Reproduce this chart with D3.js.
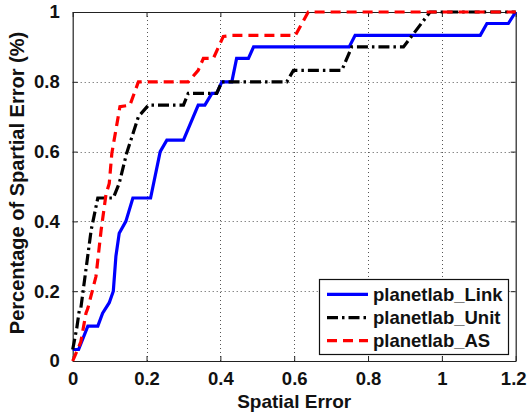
<!DOCTYPE html>
<html><head><meta charset="utf-8">
<script src="https://cdn.jsdelivr.net/npm/d3@7"></script>
<style>
body{margin:0;background:#fff;}
svg{display:block;font-family:"Liberation Sans",Arial,Helvetica,sans-serif;font-weight:bold;}
</style></head>
<body>
<script>
// ---- data ----
const seriesNames = ["planetlab_Link", "planetlab_Unit", "planetlab_AS"];
const linkX = [0, 0.016, 0.041, 0.068, 0.081, 0.099, 0.11, 0.117, 0.126, 0.144, 0.163, 0.211, 0.237, 0.255, 0.30, 0.34, 0.358, 0.377, 0.39, 0.404, 0.431, 0.444, 0.476, 0.49, 0.749, 0.765, 1.104, 1.122, 1.18, 1.2];
const linkY = [0.033, 0.033, 0.1, 0.1, 0.137, 0.167, 0.2, 0.3, 0.366, 0.4, 0.467, 0.467, 0.6, 0.633, 0.633, 0.733, 0.733, 0.767, 0.767, 0.8, 0.8, 0.867, 0.867, 0.9, 0.9, 0.933, 0.933, 0.967, 0.967, 1];
const unitX = [0, 0.011, 0.018, 0.022, 0.05, 0.068, 0.11, 0.126, 0.146, 0.178, 0.205, 0.30, 0.313, 0.39, 0.404, 0.58, 0.598, 0.729, 0.756, 0.896, 0.968, 1.2];
const unitY = [0.033, 0.094, 0.146, 0.151, 0.375, 0.467, 0.467, 0.509, 0.595, 0.7, 0.733, 0.733, 0.767, 0.767, 0.8, 0.8, 0.833, 0.833, 0.9, 0.9, 1, 1];
const asX = [0, 0.022, 0.036, 0.041, 0.063, 0.077, 0.09, 0.099, 0.106, 0.128, 0.155, 0.178, 0.313, 0.34, 0.354, 0.381, 0.408, 0.431, 0.603, 0.638, 1.2];
const asY = [0, 0.055, 0.137, 0.151, 0.242, 0.375, 0.476, 0.509, 0.595, 0.729, 0.733, 0.8, 0.8, 0.833, 0.867, 0.867, 0.93, 0.933, 0.933, 1, 1];
const xTicks = [0, 0.2, 0.4, 0.6, 0.8, 1, 1.2];
const yTicks = [0, 0.2, 0.4, 0.6, 0.8, 1];
const xLabel = "Spatial Error";
const yLabel = "Percentage of Spartial Error (%)";

// ---- layout ----
const W = 527, H = 419;
const m = {left: 72.7, right: W - 515.7, top: 12, bottom: H - 361};
const x = d3.scaleLinear().domain([0, 1.2]).range([m.left, W - m.right]);
const y = d3.scaleLinear().domain([0, 1]).range([H - m.bottom, m.top]);

const svg = d3.select("body").append("svg").attr("width", W).attr("height", H);

// grid
const grid = svg.append("g").attr("stroke", "#555").attr("stroke-width", 1).attr("stroke-dasharray", "1,3");
grid.selectAll(".gx").data(xTicks.slice(1, -1)).join("line")
  .attr("x1", d => Math.round(x(d)) + 0.5).attr("x2", d => Math.round(x(d)) + 0.5)
  .attr("y1", y(1)).attr("y2", y(0));
grid.selectAll(".gy").data(yTicks.slice(1, -1)).join("line")
  .attr("y1", d => Math.round(y(d)) + 0.5).attr("y2", d => Math.round(y(d)) + 0.5)
  .attr("x1", x(0)).attr("x2", x(1.2));

// axes (MATLAB style box, inward ticks)
const fs = 18.5;
const ax = svg.append("g").attr("transform", `translate(0,${y(0)})`)
  .call(d3.axisBottom(x).tickValues(xTicks).tickFormat(d3.format("")).tickSizeInner(-5).tickSizeOuter(0).tickPadding(11));
const axT = svg.append("g").attr("transform", `translate(0,${y(1)})`)
  .call(d3.axisTop(x).tickValues(xTicks).tickFormat("").tickSizeInner(-5).tickSizeOuter(0));
const ay = svg.append("g").attr("transform", `translate(${x(0)},0)`)
  .call(d3.axisLeft(y).tickValues(yTicks).tickFormat(d3.format("")).tickSizeInner(-5).tickSizeOuter(0).tickPadding(13));
const ayR = svg.append("g").attr("transform", `translate(${x(1.2)},0)`)
  .call(d3.axisRight(y).tickValues(yTicks).tickFormat("").tickSizeInner(-5).tickSizeOuter(0));
[ax, axT, ay, ayR].forEach(g => {
  g.select(".domain").attr("stroke", "#222").attr("stroke-width", 1.2);
  g.selectAll(".tick line").attr("stroke", "#222");
  g.selectAll("text").attr("font-size", fs).attr("font-weight", "bold").attr("fill", "#111")
    .attr("font-family", '"Liberation Sans",Arial,sans-serif');
});
// keep the last x tick label inside the picture
ax.selectAll(".tick text").filter(d => d === 1.2).attr("dx", -2.5);

// lines
const line = d3.line().x(d => x(d[0])).y(d => y(d[1]));
const series = [
  {name: seriesNames[0], xs: linkX, ys: linkY, color: "#0000ff", dash: null},
  {name: seriesNames[1], xs: unitX, ys: unitY, color: "#000000", dash: "11,4,2.5,4"},
  {name: seriesNames[2], xs: asX, ys: asY, color: "#ff0000", dash: "10,6"}
];
svg.append("g").selectAll("path").data(series).join("path")
  .attr("d", s => line(s.xs.map((v, i) => [v, s.ys[i]])))
  .attr("fill", "none").attr("stroke", s => s.color).attr("stroke-width", 3.2)
  .attr("stroke-dasharray", s => s.dash);

// labels
svg.append("text").attr("x", (x(0) + x(1.2)) / 2).attr("y", 408).attr("text-anchor", "middle")
  .attr("font-size", 19).attr("fill", "#111").text(xLabel);
svg.append("text").attr("transform", `translate(24,183) rotate(-90)`)
  .attr("text-anchor", "middle").attr("font-size", 20).attr("fill", "#111").text(yLabel);

// legend
const lg = svg.append("g");
lg.append("rect").attr("x", 319.5).attr("y", 279.5).attr("width", 189).attr("height", 75)
  .attr("fill", "#fff").attr("stroke", "#111").attr("stroke-width", 1.2);
const rowY = [294.3, 317.7, 340.7];
series.forEach((s, i) => {
  lg.append("line").attr("x1", 327).attr("x2", 368).attr("y1", rowY[i]).attr("y2", rowY[i])
    .attr("stroke", s.color).attr("stroke-width", 3.2).attr("stroke-dasharray", s.dash);
  lg.append("text").attr("x", 373).attr("y", rowY[i] + 6.5).attr("font-size", fs).attr("fill", "#111").text(s.name);
});
</script>
</body></html>
